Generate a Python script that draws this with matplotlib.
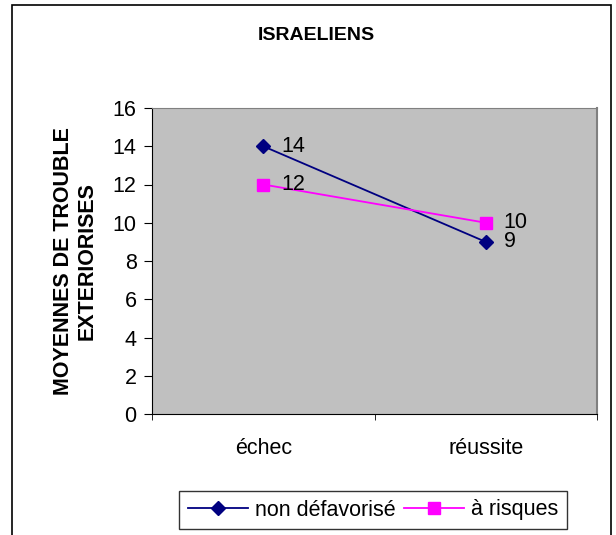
import matplotlib.pyplot as plt
from matplotlib.patches import Rectangle

# data
categories = ['échec', 'réussite']
non_defavorise = [14, 9]
a_risques = [12, 10]
y_ticks = [0, 2, 4, 6, 8, 10, 12, 14, 16]

plt.rcParams['font.family'] = ['Liberation Sans', 'DejaVu Sans']
FS = 15.5

W, H = 616, 535
fig = plt.figure(figsize=(W / 100, H / 100), dpi=100)

# outer chart frame (open at the bottom, like the cropped original)
fig.patches.append(Rectangle((12 / W, -0.1), (611 - 12) / W, 1.1 - 5 / H,
                             transform=fig.transFigure, fill=False,
                             edgecolor='black', linewidth=1.2))

ax = fig.add_axes([152 / W, 1 - 414 / H, (597 - 152) / W, (414 - 108) / H])
ax.set_facecolor('#c0c0c0')

x = list(range(len(categories)))
ax.plot(x, non_defavorise, color='#000080', marker='D', markersize=7.5,
        linewidth=1.3, label='non défavorisé', zorder=3)
ax.plot(x, a_risques, color='#ff00ff', marker='s', markersize=8.5,
        linewidth=1.3, label='à risques', zorder=3)

for xi, v in zip(x, non_defavorise):
    ax.annotate(str(v), (xi, v), xytext=(13, 0), textcoords='offset points',
                va='center', ha='left', fontsize=FS)
for xi, v in zip(x, a_risques):
    ax.annotate(str(v), (xi, v), xytext=(13, 0), textcoords='offset points',
                va='center', ha='left', fontsize=FS)

ax.set_xlim(-0.5, len(categories) - 0.5)
ax.set_ylim(0, 16)
ax.set_yticks(y_ticks)
ax.set_xticks(x)
ax.set_xticklabels(categories)
ax.set_xticks([-0.5, 0.5, 1.5], minor=True)
ax.tick_params(axis='x', which='major', length=0, pad=17, labelsize=FS)
ax.tick_params(axis='x', which='minor', length=4, direction='out')
ax.tick_params(axis='y', length=6, direction='out', labelsize=FS, pad=5)

ax.spines['left'].set_color('black')
ax.spines['bottom'].set_color('black')
ax.spines['top'].set_color('#808080')
ax.spines['right'].set_color('#808080')
ax.spines['right'].set_linewidth(1.5)

ax.set_ylabel('MOYENNES DE TROUBLE\nEXTERIORISES', fontsize=FS,
              fontweight='bold', labelpad=11, linespacing=1.15)

fig.text(316 / W, 1 - 36 / H, 'ISRAELIENS', ha='center', va='center',
         fontsize=14, fontweight='bold')

leg = fig.legend(loc='center', bbox_to_anchor=(373 / W, 1 - 510 / H), ncol=2,
                 frameon=True, fancybox=False, edgecolor='black',
                 fontsize=FS, handlelength=2.8, columnspacing=0.4,
                 handletextpad=0.3, borderpad=0.4)
leg.get_frame().set_linewidth(1.0)

fig.savefig('out.png', dpi=100)
